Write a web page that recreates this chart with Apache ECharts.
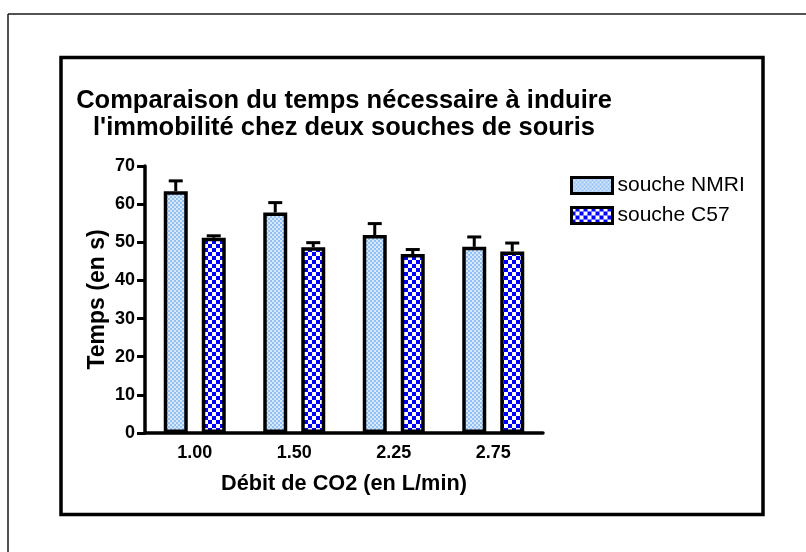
<!DOCTYPE html>
<html>
<head>
<meta charset="utf-8">
<script src="https://cdn.jsdelivr.net/npm/echarts@6/dist/echarts.min.js"></script>
<style>
  html, body { margin: 0; padding: 0; background: #fff; }
  #chart { width: 806px; height: 552px; }
</style>
</head>
<body>
<div id="chart"></div>
<script>
// Débit de CO2 (L/min)
const debits = ['1.00', '1.50', '2.25', '2.75'];
// Temps moyen (s) et erreur standard, souche NMRI
const nmriMoy = [63.4, 57.8, 51.9, 48.8];
const nmriErr = [2.7, 2.6, 3.0, 2.6];
// Temps moyen (s) et erreur standard, souche C57
const c57Moy = [51.2, 48.7, 46.9, 47.6];
const c57Err = [0.5, 1.2, 1.2, 2.2];
// Graduations de l'axe des temps
const yTicks = [0, 10, 20, 30, 40, 50, 60, 70];

const FONT = "'Liberation Sans', Arial, sans-serif";

// Motif damier pour le remplissage des barres
function checker(cell, c1, c2) {
  const cv = document.createElement('canvas');
  cv.width = cell * 2; cv.height = cell * 2;
  const ctx = cv.getContext('2d');
  ctx.fillStyle = c1; ctx.fillRect(0, 0, cell * 2, cell * 2);
  ctx.fillStyle = c2;
  ctx.fillRect(0, 0, cell, cell);
  ctx.fillRect(cell, cell, cell, cell);
  return { image: cv, repeat: 'repeat' };
}
const motifNMRI = checker(2, '#93c0f2', '#d9e9fc');
const motifC57 = checker(4, '#0000ff', '#ffffff');

const BAR_W = 24;
const BAR_GAP = 14;
const HALF_STEP = (BAR_W + BAR_GAP) / 2;

// Barre d'erreur (demi-barre supérieure avec chapeau)
function errorBar(offset, means, errs) {
  return {
    type: 'custom',
    z: 5,
    silent: true,
    data: debits.map((d, i) => [i, means[i], means[i] + errs[i]]),
    renderItem(params, api) {
      const base = api.coord([api.value(0), api.value(1)]);
      const top = api.coord([api.value(0), api.value(2)]);
      const x = base[0] + offset;
      const style = { stroke: '#000', lineWidth: 3 };
      return {
        type: 'group',
        children: [
          { type: 'line', shape: { x1: x, y1: base[1], x2: x, y2: top[1] }, style },
          { type: 'line', shape: { x1: x - 7, y1: top[1], x2: x + 7, y2: top[1] }, style }
        ]
      };
    }
  };
}

const chart = echarts.init(document.getElementById('chart'), null, { renderer: 'canvas' });
chart.setOption({
  backgroundColor: '#ffffff',
  animation: false,
  title: {
    text: "Comparaison du temps nécessaire à induire\nl'immobilité chez deux souches de souris",
    left: 344,
    top: 87,
    textAlign: 'center',
    padding: 0,
    textStyle: { fontFamily: FONT, fontWeight: 'bold', fontSize: 25.5, lineHeight: 27, color: '#000' }
  },
  legend: {
    left: 570,
    top: 175,
    padding: 0,
    orient: 'vertical',
    itemWidth: 41,
    itemHeight: 16,
    itemGap: 9,
    icon: 'rect',
    itemStyle: { borderColor: '#000', borderWidth: 3 },
    textStyle: { fontFamily: FONT, fontSize: 21, color: '#000', padding: 0 },
    data: ['souche NMRI', 'souche C57']
  },
  grid: { left: 145, right: 263, top: 166, bottom: 119, containLabel: false },
  xAxis: {
    type: 'category',
    data: debits,
    name: 'Débit de CO2 (en L/min)',
    nameLocation: 'middle',
    nameGap: 40,
    nameTextStyle: { fontFamily: FONT, fontWeight: 'bold', fontSize: 21.7, color: '#000' },
    axisLine: { lineStyle: { color: '#000', width: 3.5 } },
    axisTick: { alignWithLabel: true, length: 7, lineStyle: { color: '#000', width: 3 } },
    axisLabel: { fontFamily: FONT, fontWeight: 'bold', fontSize: 18, color: '#000', margin: 11 }
  },
  yAxis: {
    type: 'value',
    min: yTicks[0],
    max: yTicks[yTicks.length - 1],
    interval: yTicks[1] - yTicks[0],
    name: 'Temps (en s)',
    nameLocation: 'middle',
    nameRotate: 90,
    nameGap: 36,
    nameTextStyle: { fontFamily: FONT, fontWeight: 'bold', fontSize: 23, color: '#000' },
    axisLine: { show: true, lineStyle: { color: '#000', width: 3.5 } },
    axisTick: { show: true, length: 8, lineStyle: { color: '#000', width: 3 } },
    axisLabel: { fontFamily: FONT, fontWeight: 'bold', fontSize: 18, color: '#000', margin: 10 },
    splitLine: { show: false }
  },
  series: [
    {
      name: 'souche NMRI',
      type: 'bar',
      data: nmriMoy,
      barWidth: BAR_W,
      barGap: (BAR_GAP / BAR_W * 100) + '%',
      itemStyle: { color: motifNMRI, borderColor: '#000', borderWidth: 3.5 }
    },
    {
      name: 'souche C57',
      type: 'bar',
      data: c57Moy,
      barWidth: BAR_W,
      itemStyle: { color: motifC57, borderColor: '#000', borderWidth: 3.5 }
    },
    errorBar(-HALF_STEP, nmriMoy, nmriErr),
    errorBar(HALF_STEP, c57Moy, c57Err)
  ],
  graphic: [
    // cadre extérieur
    { type: 'line', shape: { x1: 8, y1: 14, x2: 806, y2: 14 }, style: { stroke: '#1a1a1a', lineWidth: 1.5 } },
    { type: 'line', shape: { x1: 8, y1: 14, x2: 8, y2: 552 }, style: { stroke: '#1a1a1a', lineWidth: 1.5 } },
    // cadre du graphique
    { type: 'rect', shape: { x: 61, y: 57.5, width: 702, height: 457 }, style: { fill: null, stroke: '#000', lineWidth: 3.5 } }
  ]
});
</script>
</body>
</html>
